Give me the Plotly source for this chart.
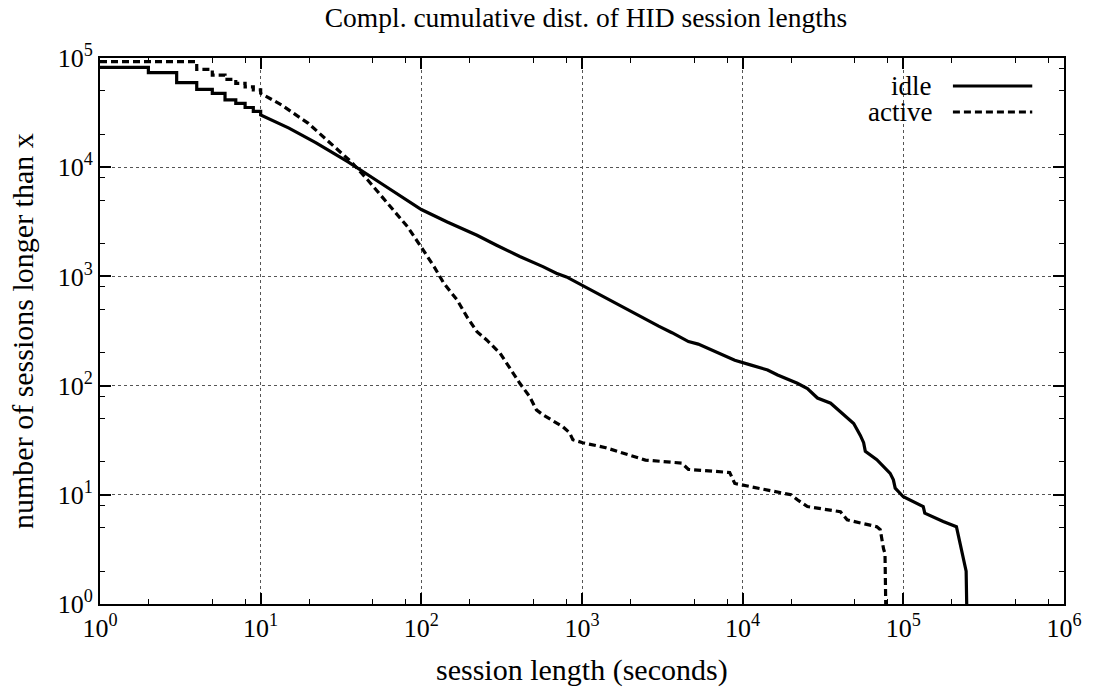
import plotly.graph_objects as go

# ---------------- data ----------------
# idle sessions: integer-second steps at the start, then the CCDF curve
idle_step_x = [1, 2, 3, 4, 5, 6, 7, 8, 9, 10]
idle_step_y = [82200, 73400, 59400, 51600, 47500, 41300, 38400, 35200, 32500, 30100]
idle_x = [15, 22, 35, 56, 100, 145, 222, 294, 410, 571, 692, 800, 1000, 1220, 1620,
          2260, 3000, 3630, 4600, 5290, 6410, 8930, 11300, 14300, 16500, 21900,
          25300, 29200, 35300, 42600, 49100, 54000, 56600, 58000, 68400, 82800,
          86700, 89000, 100000, 133000, 136000, 177000, 214000, 246000, 248000]
idle_y = [22800, 16800, 11200, 7130, 4100, 3150, 2380, 1930, 1520, 1230, 1070, 990, 830,
          705, 570, 435, 350, 305, 253, 240, 212, 171, 154, 139, 125, 105,
          94, 77, 69, 54, 45, 35, 30, 25, 21, 15.7,
          13.7, 11.5, 9.6, 7.8, 6.8, 5.7, 5.1, 2.0, 1.0]

# active sessions
active_step_x = [1, 2, 3, 4, 5, 6, 7, 8, 9, 10]
active_step_y = [92500, 92500, 92500, 78800, 69800, 63800, 58500, 54500, 51000, 47500]
active_x = [13.5, 19.8, 28.9, 36.6, 46.4, 61.7, 82, 100, 120, 138, 167, 192, 222, 255,
            309, 340, 373, 410, 473, 520, 571, 760, 836, 877, 1010, 1406, 2480,
            4180, 4600, 8300, 8930, 20000, 21900, 25300, 40600, 44700, 68400,
            71800, 75300, 76900, 77700]
active_y = [37100, 25200, 15400, 11200, 7640, 4670, 2850, 1850, 1228, 865, 608, 428, 312, 262,
            198, 160, 130, 105, 79, 60, 54, 42, 37, 32, 30, 27, 20.8,
            19.5, 17.1, 16, 12.7, 10, 9, 7.8, 7.0, 5.9, 5.1,
            4.8, 3.2, 2.9, 1.0]

series_names = ["idle", "active"]

x_major = [1, 10, 100, 1000, 10000, 100000, 1000000]
x_labels = ["10<sup>0</sup>", "10<sup>1</sup>", "10<sup>2</sup>", "10<sup>3</sup>",
            "10<sup>4</sup>", "10<sup>5</sup>", "10<sup>6</sup>"]
y_major = [1, 10, 100, 1000, 10000, 100000]
y_labels = ["10<sup>0</sup>", "10<sup>1</sup>", "10<sup>2</sup>", "10<sup>3</sup>",
            "10<sup>4</sup>", "10<sup>5</sup>"]
minor_mult = [2, 5, 8]

title_text = "Compl. cumulative dist. of HID session lengths"
x_title = "session length (seconds)"
y_title = "number of sessions longer than x"


def staircase(xs, ys):
    sx, sy = [], []
    for i in range(len(xs)):
        if i > 0:
            sx.append(xs[i])
            sy.append(ys[i - 1])
        sx.append(xs[i])
        sy.append(ys[i])
    return sx, sy


ix, iy = staircase(idle_step_x, idle_step_y)
ix += idle_x
iy += idle_y
ax, ay = staircase(active_step_x, active_step_y)
ax += active_x
ay += active_y

x_minor = [m * d for d in x_major[:-1] for m in minor_mult]
y_minor = [m * d for d in y_major[:-1] for m in minor_mult]

FONT = "Liberation Serif"
W, H = 1094, 687
L, R, T, B = 100, 22, 58, 83
LW = 3.2
DASH = "7px,4px"

fig = go.Figure()
fig.add_trace(go.Scatter(x=ix, y=iy, mode="lines", name=series_names[0],
                         line=dict(color="black", width=LW), showlegend=False))
fig.add_trace(go.Scatter(x=ax, y=ay, mode="lines", name=series_names[1],
                         line=dict(color="black", width=LW, dash=DASH), showlegend=False))

axis_common = dict(
    type="log", showline=True, linecolor="black", linewidth=2, mirror="allticks",
    ticks="inside", ticklen=11, tickwidth=1.5, tickcolor="black",
    showgrid=True, gridcolor="#555555", gridwidth=1, griddash="dot",
    zeroline=False, tickmode="array",
    tickfont=dict(family=FONT, size=26, color="black"),
)

fig.update_xaxes(**axis_common, range=[0, 6], tickvals=x_major, ticktext=x_labels,
                 minor=dict(tickvals=x_minor, ticks="inside", ticklen=5, tickwidth=1.2,
                            tickcolor="black", showgrid=False))
fig.update_yaxes(**axis_common, range=[0, 5], tickvals=y_major, ticktext=y_labels,
                 minor=dict(tickvals=y_minor, ticks="inside", ticklen=5, tickwidth=1.2,
                            tickcolor="black", showgrid=False))

plot_w = W - L - R
plot_h = H - T - B

annotations = [
    dict(text=x_title, xref="paper", yref="paper", x=0.5, y=0, yshift=-66,
         showarrow=False, xanchor="center", yanchor="middle",
         font=dict(family=FONT, size=30, color="black")),
    dict(text=y_title, xref="paper", yref="paper", x=0, y=0.5, xshift=-78,
         showarrow=False, textangle=-90, xanchor="center", yanchor="middle",
         font=dict(family=FONT, size=30, color="black")),
]
shapes = []
legend_rows = [(series_names[0], "solid", 86), (series_names[1], DASH, 112)]
for name, dash, ypx in legend_rows:
    yp = (H - B - ypx) / plot_h
    annotations.append(dict(text=name, xref="paper", yref="paper",
                            x=(941 - L) / plot_w, y=yp, showarrow=False,
                            xanchor="right", yanchor="middle",
                            font=dict(family=FONT, size=27, color="black")))
    shapes.append(dict(type="line", xref="paper", yref="paper",
                       x0=(960 - L) / plot_w, x1=(1040 - L) / plot_w, y0=yp, y1=yp,
                       line=dict(color="black", width=LW, dash=dash)))

fig.update_layout(
    width=W, height=H,
    margin=dict(l=L, r=R, t=T, b=B),
    paper_bgcolor="white", plot_bgcolor="white",
    font=dict(family=FONT, size=26, color="black"),
    title=dict(text=title_text, x=(L + plot_w / 2) / W, xanchor="center",
               y=1 - 17 / H, yanchor="middle", yref="container",
               font=dict(family=FONT, size=27.5, color="black")),
    annotations=annotations, shapes=shapes,
    showlegend=False,
)

fig.write_html("out.html")
